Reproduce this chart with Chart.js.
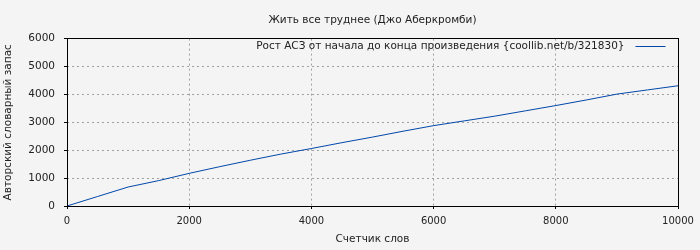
<!DOCTYPE html>
<html>
<head>
<meta charset="utf-8">
<script src="https://cdn.jsdelivr.net/npm/chart.js@4"></script>
<style>
html,body{margin:0;padding:0;background:#f4f4f4;}
#wrap{width:700px;height:250px;position:relative;}
</style>
</head>
<body>
<div id="wrap"><canvas id="c" width="700" height="250"></canvas></div>
<script>
const chartTitle = "Жить все труднее (Джо Аберкромби)";
const seriesLabel = "Рост АСЗ от начала до конца произведения {coollib.net/b/321830}";
const xTitle = "Счетчик слов";
const yTitle = "Авторский словарный запас";
const wordCounts = [0, 500, 1000, 1500, 2000, 2500, 3000, 3500, 4000, 4500, 5000, 5500, 6000, 6500, 7000, 7500, 8000, 8500, 9000, 9500, 10000];
const vocabulary = [0, 340, 680, 910, 1170, 1410, 1640, 1860, 2060, 2270, 2470, 2680, 2880, 3050, 3220, 3410, 3600, 3800, 4010, 4160, 4310];
const xTicks = [0, 2000, 4000, 6000, 8000, 10000];
const yTicks = [0, 1000, 2000, 3000, 4000, 5000, 6000];

const FONT = "'DejaVu Sans', sans-serif";
const lineColor = '#0047ab';

const points = wordCounts.map((x, i) => ({x: x, y: vocabulary[i]}));

function align(p) { return Math.round(p - 0.5) + 0.5; }

const framePlugin = {
  id: 'frame',
  beforeDraw(chart) {
    const ctx = chart.ctx;
    ctx.save();
    ctx.fillStyle = '#f4f4f4';
    ctx.fillRect(0, 0, chart.width, chart.height);
    ctx.restore();
  },
  afterDraw(chart) {
    const {ctx, chartArea: a} = chart;
    const l = align(a.left), r = align(a.right), t = align(a.top), b = align(a.bottom);
    ctx.save();
    ctx.strokeStyle = '#000';
    ctx.lineWidth = 1;
    ctx.strokeRect(l, t, r - l, b - t);
    // legend inside plot area, top right
    const ds = chart.data.datasets[0];
    const y = t + 8;
    const lineEnd = r - 13;
    const lineStart = lineEnd - 30;
    ctx.font = "10.5px " + FONT;
    ctx.fillStyle = '#222';
    ctx.textAlign = 'right';
    ctx.textBaseline = 'middle';
    ctx.fillText(ds.label, lineStart - 11, y);
    ctx.strokeStyle = ds.borderColor;
    ctx.beginPath();
    ctx.moveTo(lineStart, y);
    ctx.lineTo(lineEnd, y);
    ctx.stroke();
    ctx.restore();
  }
};

new Chart(document.getElementById('c'), {
  type: 'line',
  data: {
    datasets: [{
      label: seriesLabel,
      data: points,
      borderColor: lineColor,
      borderWidth: 1,
      pointRadius: 0,
      tension: 0,
      fill: false
    }]
  },
  options: {
    responsive: false,
    animation: false,
    devicePixelRatio: 1,
    layout: {padding: {top: 0, right: 22, bottom: 0, left: 0}},
    plugins: {
      legend: {display: false},
      tooltip: {enabled: false},
      title: {
        display: true,
        fullSize: false,
        text: chartTitle,
        color: '#222',
        font: {family: FONT, size: 10.5, weight: 'normal'},
        padding: {top: 14, bottom: 12}
      }
    },
    scales: {
      x: {
        type: 'linear',
        min: 0, max: 10000,
        afterBuildTicks(scale) { scale.ticks = xTicks.map(v => ({value: v})); },
        afterFit(scale) { scale.height = 44; },
        grid: {
          color: '#a0a0a0',
          lineWidth: 1,
          tickLength: 3,
          tickColor: '#000',
          tickBorderDash: [],
          drawTicks: true
        },
        border: {display: false, dash: [2, 3]},
        ticks: {
          color: '#222',
          font: {family: FONT, size: 10},
          padding: 6,
          maxRotation: 0,
          callback: v => String(v)
        },
        title: {
          display: true,
          text: xTitle,
          color: '#222',
          font: {family: FONT, size: 10.5},
          padding: {top: 0, bottom: 4}
        }
      },
      y: {
        type: 'linear',
        min: 0, max: 6000,
        afterBuildTicks(scale) { scale.ticks = yTicks.map(v => ({value: v})); },
        afterFit(scale) { scale.width = 67; },
        grid: {
          color: '#a0a0a0',
          lineWidth: 1,
          tickLength: 3,
          tickColor: '#000',
          tickBorderDash: [],
          drawTicks: true
        },
        border: {display: false, dash: [2, 3]},
        ticks: {
          color: '#222',
          font: {family: FONT, size: 10.5},
          padding: 9,
          callback: v => String(v)
        },
        title: {
          display: true,
          text: yTitle,
          color: '#222',
          font: {family: FONT, size: 10.5},
          padding: {top: 2, bottom: 2}
        }
      }
    }
  },
  plugins: [framePlugin]
});
</script>
</body>
</html>
